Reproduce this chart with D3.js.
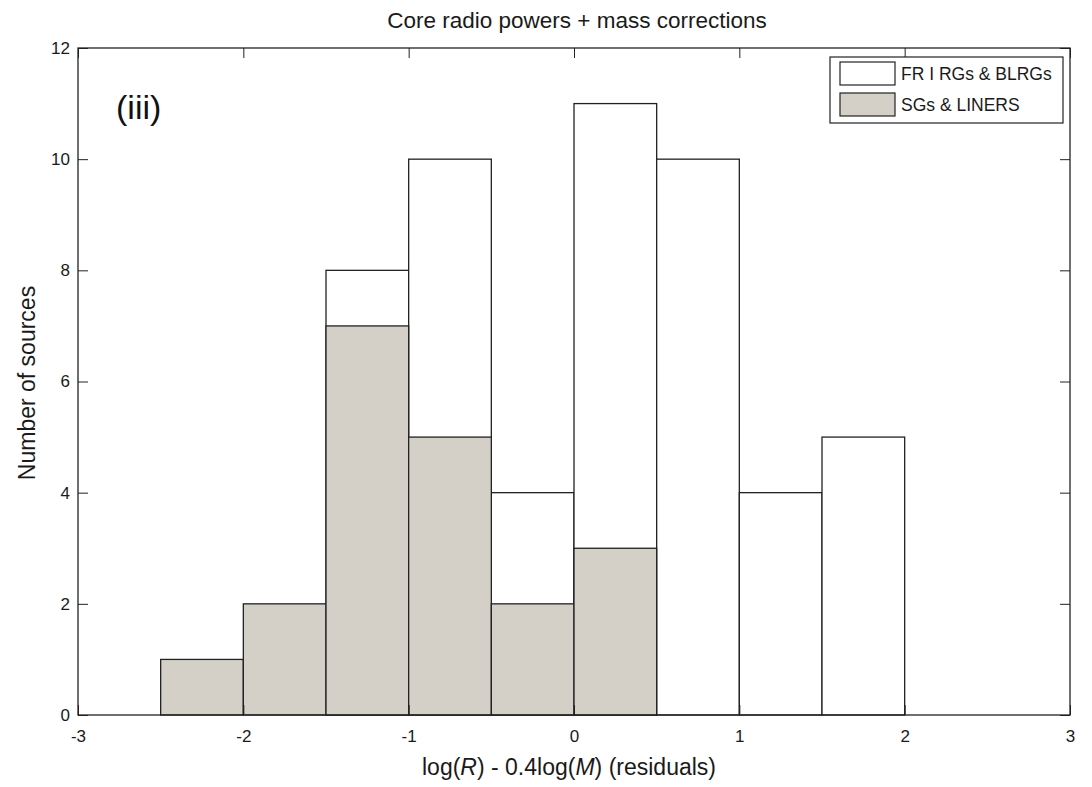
<!DOCTYPE html>
<html>
<head>
<meta charset="utf-8">
<script src="https://cdn.jsdelivr.net/npm/d3@7"></script>
<style>
  html, body { margin: 0; padding: 0; background: #fff; }
  svg { display: block; font-family: "Liberation Sans", Arial, sans-serif; }
</style>
</head>
<body>
<svg id="chart" width="1092" height="787"></svg>
<script>
// Histogram bin left edges (bin width 0.5)
const binStarts = [-2.5, -2, -1.5, -1, -0.5, 0, 0.5, 1, 1.5];
const binWidth = 0.5;
// Counts per bin
const frCounts = [0, 0, 8, 10, 4, 11, 10, 4, 5];   // FR I RGs & BLRGs
const sgCounts = [1, 2, 7, 5, 2, 3, 0, 0, 0];      // SGs & LINERS
const xTicks = [-3, -2, -1, 0, 1, 2, 3];
const yTicks = [0, 2, 4, 6, 8, 10, 12];
const seriesNames = ["FR I RGs & BLRGs", "SGs & LINERS"];
const seriesFill = ["#ffffff", "#d4d0c8"];

const svg = d3.select("#chart");
const m = { left: 78, right: 1070, top: 48, bottom: 715 };

const x = d3.scaleLinear().domain([-3, 3]).range([m.left, m.right]);
const y = d3.scaleLinear().domain([0, 12]).range([m.bottom, m.top]);

const ink = "#222";
const txt = "#1a1a1a";
const fmt = d => String(d);   // plain hyphen for negatives

// Bars: white series behind, grey series on top
const series = [frCounts, sgCounts];
series.forEach((counts, si) => {
  svg.append("g").selectAll("rect")
    .data(binStarts.map((b, i) => ({ b, v: counts[i] })).filter(d => d.v > 0))
    .join("rect")
    .attr("x", d => x(d.b))
    .attr("width", d => x(d.b + binWidth) - x(d.b))
    .attr("y", d => y(d.v))
    .attr("height", d => y(0) - y(d.v))
    .attr("fill", seriesFill[si])
    .attr("stroke", ink)
    .attr("stroke-width", 1.3);
});

// Axes with inward ticks on all four sides
const tickLen = 10;
const axB = svg.append("g").attr("transform", `translate(0,${m.bottom})`)
  .call(d3.axisBottom(x).tickValues(xTicks).tickSize(-tickLen).tickPadding(15).tickFormat(fmt));
const axT = svg.append("g").attr("transform", `translate(0,${m.top})`)
  .call(d3.axisTop(x).tickValues(xTicks).tickSize(-tickLen).tickFormat(""));
const axL = svg.append("g").attr("transform", `translate(${m.left},0)`)
  .call(d3.axisLeft(y).tickValues(yTicks).tickSize(-tickLen).tickPadding(8).tickFormat(fmt));
const axR = svg.append("g").attr("transform", `translate(${m.right},0)`)
  .call(d3.axisRight(y).tickValues(yTicks).tickSize(-tickLen).tickFormat(""));

[axB, axT, axL, axR].forEach(g => {
  g.attr("font-size", null).attr("font-family", null);
  g.select(".domain").remove();
  g.selectAll(".tick line").attr("stroke", ink).attr("stroke-width", 1);
  g.selectAll("text").attr("fill", txt).style("font-size", "17px");
});

// Plot frame
svg.append("rect")
  .attr("x", m.left).attr("y", m.top)
  .attr("width", m.right - m.left).attr("height", m.bottom - m.top)
  .attr("fill", "none").attr("stroke", ink).attr("stroke-width", 1.3);

// Title
svg.append("text")
  .attr("x", 577).attr("y", 28)
  .attr("text-anchor", "middle")
  .style("font-size", "22.5px").attr("fill", txt)
  .text("Core radio powers + mass corrections");

// Panel label
svg.append("text")
  .attr("x", 116).attr("y", 119)
  .style("font-size", "34px").attr("fill", "#111")
  .text("(iii)");

// X axis label
const xl = svg.append("text")
  .attr("x", 569).attr("y", 775)
  .attr("text-anchor", "middle")
  .style("font-size", "23px").attr("fill", txt);
xl.append("tspan").text("log(");
xl.append("tspan").style("font-style", "italic").text("R");
xl.append("tspan").text(") - 0.4log(");
xl.append("tspan").style("font-style", "italic").text("M");
xl.append("tspan").text(") (residuals)");

// Y axis label
svg.append("text")
  .attr("transform", `translate(35,383) rotate(-90)`)
  .attr("text-anchor", "middle")
  .style("font-size", "23px").attr("fill", txt)
  .text("Number of sources");

// Legend
const lg = svg.append("g");
lg.append("rect")
  .attr("x", 830).attr("y", 57).attr("width", 233).attr("height", 66)
  .attr("fill", "#fff").attr("stroke", ink).attr("stroke-width", 1.2);
seriesNames.forEach((name, i) => {
  const yy = 62 + i * 31;
  lg.append("rect")
    .attr("x", 840).attr("y", yy).attr("width", 55).attr("height", 23)
    .attr("fill", seriesFill[i]).attr("stroke", ink).attr("stroke-width", 1.2);
  lg.append("text")
    .attr("x", 901).attr("y", yy + 18)
    .style("font-size", "17.5px").attr("fill", txt)
    .text(name);
});
</script>
</body>
</html>
